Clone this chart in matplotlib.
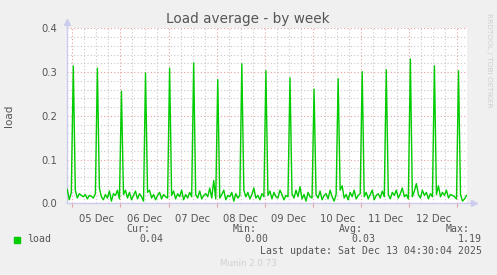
import numpy as np
import pandas as pd
import matplotlib
matplotlib.use("Agg")
import matplotlib.pyplot as plt
import matplotlib.dates as mdates

# Munin "Load average - by week" (30 min -> hourly samples)

first_sample = "2025-12-04 21:30"

dec04 = [0.032, 0.008, 0.025]
dec05 = [0.314, 0.030, 0.012, 0.022, 0.018, 0.015, 0.020, 0.010, 0.018, 0.016, 0.012, 0.022,
         0.309, 0.035, 0.015, 0.008, 0.020, 0.012, 0.028, 0.005, 0.022, 0.018, 0.030, 0.010]
dec06 = [0.256, 0.020, 0.030, 0.012, 0.025, 0.008, 0.018, 0.028, 0.010, 0.022, 0.015, 0.005,
         0.298, 0.025, 0.030, 0.012, 0.020, 0.008, 0.018, 0.025, 0.010, 0.020, 0.015, 0.012]
dec07 = [0.309, 0.018, 0.028, 0.010, 0.022, 0.015, 0.030, 0.008, 0.020, 0.012, 0.025, 0.015,
         0.321, 0.020, 0.012, 0.028, 0.010, 0.018, 0.022, 0.015, 0.035, 0.012, 0.052, 0.010]
dec08 = [0.283, 0.012, 0.020, 0.030, 0.008, 0.018, 0.015, 0.025, 0.005, 0.022, 0.012, 0.018,
         0.319, 0.030, 0.015, 0.025, 0.010, 0.020, 0.035, 0.012, 0.018, 0.008, 0.022, 0.015]
dec09 = [0.303, 0.018, 0.028, 0.010, 0.025, 0.015, 0.012, 0.030, 0.020, 0.008, 0.018, 0.015,
         0.287, 0.022, 0.012, 0.030, 0.015, 0.038, 0.010, 0.020, 0.005, 0.025, 0.015, 0.012]
dec10 = [0.261, 0.020, 0.012, 0.028, 0.008, 0.018, 0.022, 0.010, 0.030, 0.015, 0.005, 0.020,
         0.285, 0.030, 0.040, 0.012, 0.020, 0.008, 0.025, 0.015, 0.030, 0.010, 0.018, 0.022]
dec11 = [0.301, 0.015, 0.025, 0.010, 0.020, 0.030, 0.008, 0.018, 0.022, 0.012, 0.028, 0.015,
         0.305, 0.020, 0.010, 0.025, 0.018, 0.030, 0.012, 0.022, 0.035, 0.015, 0.020, 0.010]
dec12 = [0.330, 0.015, 0.028, 0.045, 0.020, 0.012, 0.030, 0.018, 0.025, 0.010, 0.022, 0.015,
         0.314, 0.020, 0.040, 0.015, 0.025, 0.018, 0.030, 0.012, 0.020, 0.018, 0.015, 0.010]
dec13 = [0.303, 0.020, 0.005, 0.010, 0.018]

load = dec04 + dec05 + dec06 + dec07 + dec08 + dec09 + dec10 + dec11 + dec12 + dec13
times = pd.date_range(first_sample, periods=len(load), freq="h")

stats_cur, stats_min, stats_avg, stats_max = "0.04", "0.00", "0.03", "1.19"
last_update = "Last update: Sat Dec 13 04:30:04 2025"

W, H = 497, 275
fig = plt.figure(figsize=(W / 100, H / 100), dpi=100, facecolor="#f0f0f0")

def fx(px):
    return px / W

def fy(py):
    return 1 - py / H

left, right, top, bottom = 67, 467, 28.3, 203.3
ax = fig.add_axes([fx(left), fy(bottom), fx(right - left), (bottom - top) / H])
ax.set_facecolor("white")

t0 = pd.Timestamp("2025-12-04 21:21:30")
t1 = t0 + pd.Timedelta(days=400 / 48.15)
ax.set_xlim(t0, t1)
ax.set_ylim(0, 0.4)

ax.plot(times, load, color="#00cc00", lw=1.0, zorder=3)

# grid: grey minor every 6h / 0.02, red major every day / 0.1
ax.xaxis.set_major_locator(mdates.DayLocator())
ax.xaxis.set_minor_locator(mdates.HourLocator(byhour=[6, 12, 18]))
ax.yaxis.set_major_locator(plt.MultipleLocator(0.1))
ax.yaxis.set_minor_locator(plt.MultipleLocator(0.02))
ax.yaxis.set_major_formatter(plt.FormatStrFormatter("%.1f"))
ax.grid(which="minor", color="#c8c8c8", ls=(0, (1, 2)), lw=0.8)
ax.grid(which="major", color="#e8a0a0", ls=(0, (1, 2)), lw=0.8)

ax.xaxis.set_major_formatter(plt.NullFormatter())
ax.tick_params(axis="x", which="major", length=3, color="#e8a0a0", direction="out")
ax.tick_params(axis="x", which="minor", length=0)
ax.tick_params(axis="y", which="both", length=0, labelsize=7.2, labelcolor="#555555", pad=7)

# day labels at noon
for d in range(5, 13):
    ax.text(pd.Timestamp(2025, 12, d, 12), -0.025, "%02d Dec" % d, ha="center", va="top",
            fontsize=7.2, color="#555555")

for s in ["top", "right"]:
    ax.spines[s].set_visible(False)
for s in ["left", "bottom"]:
    ax.spines[s].set_color("#ccccee")
    ax.spines[s].set_linewidth(1.0)
ax.plot([0], [1.035], marker="^", color="#ccccee", ms=4, transform=ax.transAxes, clip_on=False)
ax.plot([0, 0], [1.0, 1.035], color="#ccccee", lw=1.0, transform=ax.transAxes, clip_on=False)
ax.plot([1, 1.0175], [0, 0], color="#ccccee", lw=1.0, transform=ax.transAxes, clip_on=False)
ax.plot([1.0175], [0], marker=">", color="#ccccee", ms=4, transform=ax.transAxes, clip_on=False)

fig.text(fx(248), fy(19), "Load average - by week", ha="center", va="center",
         fontsize=9.8, color="#555555")
fig.text(fx(9), fy(116), "load", rotation=90, ha="center", va="center",
         fontsize=7.5, color="#555555")
fig.text(fx(489), fy(60), "RRDTOOL / TOBI OETIKER", rotation=270, ha="center", va="center",
         fontsize=5.3, color="#d0d0d0")

mono = dict(family="DejaVu Sans Mono", fontsize=7.1, color="#555555")
fig.patches.append(plt.Rectangle((fx(14), fy(242.5)), fx(6), 6 / H, color="#00cc00",
                                 transform=fig.transFigure))
fig.text(fx(27), fy(239.5), "load", ha="left", va="center", **mono)
for lab, val, x_lab, x_val in [("Cur:", stats_cur, 150, 163), ("Min:", stats_min, 257, 268),
                               ("Avg:", stats_avg, 363, 375), ("Max:", stats_max, 470, 482)]:
    fig.text(fx(x_lab), fy(228.5), lab, ha="right", va="center", **mono)
    fig.text(fx(x_val), fy(239.5), val, ha="right", va="center", **mono)
fig.text(fx(482), fy(251), last_update, ha="right", va="center", **mono)
fig.text(fx(248), fy(264), "Munin 2.0.73", ha="center", va="center",
         fontsize=6.3, color="#d0d0d0")

fig.savefig("out.png", dpi=100, facecolor=fig.get_facecolor())
